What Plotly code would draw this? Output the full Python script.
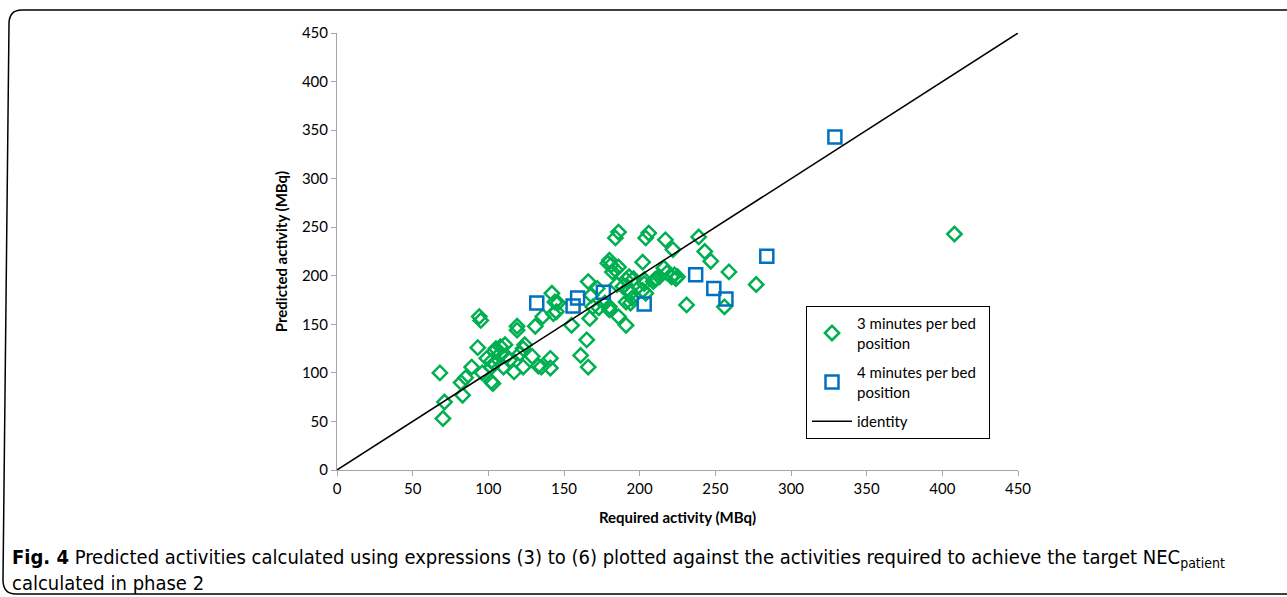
import plotly.graph_objects as go

# Data
green_x = [68, 71, 70, 82, 83, 85, 89, 93, 94, 95, 96, 99, 102, 102, 103, 104, 105, 108, 102, 104,
           108, 111, 112, 114, 110, 117, 119, 119, 121, 123, 124, 123, 129, 131, 133, 136, 135, 141,
           141, 142, 144, 146, 145, 143, 155, 161, 165, 166, 166, 167, 168, 169, 173, 177, 180, 172,
           180, 179, 180, 181, 182, 184, 186, 184, 186, 185, 186, 191, 189, 191, 193, 193, 194, 195,
           194, 191, 196, 203, 204, 202, 204, 206, 210, 213, 216, 218, 223, 225, 217, 222, 239, 243,
           247, 259, 277, 231, 256, 408, 209, 211, 221, 224, 203, 202]
green_y = [100, 70, 53, 90, 77, 95, 106, 126, 158, 154, 100, 115, 106, 91, 89, 122, 125, 127, 112, 110,
           120, 129, 117, 113, 106, 101, 148, 144, 120, 125, 129, 106, 117, 148, 107, 158, 106, 115,
           105, 182, 173, 172, 163, 161, 149, 118, 134, 106, 194, 156, 180, 168, 167, 172, 168, 187,
           165, 213, 216, 211, 204, 206, 209, 239, 245, 191, 158, 149, 189, 196, 199, 185, 182, 177,
           172, 173, 197, 196, 182, 214, 239, 244, 196, 199, 208, 203, 201, 199, 237, 227, 240, 225,
           215, 204, 191, 170, 168, 243, 194, 197, 199, 197, 192, 185]

blue_x = [132, 156, 159, 176, 203, 237, 249, 257, 284, 329]
blue_y = [172, 169, 177, 183, 171, 201, 187, 176, 220, 343]

identity_x = [0, 450]
identity_y = [0, 450]

tick_vals = [0, 50, 100, 150, 200, 250, 300, 350, 400, 450]

GREEN = "#00B050"
BLUE = "#0070C0"
FONT = "Lato, Carlito, 'Open Sans', sans-serif"

fig = go.Figure()
fig.add_trace(go.Scatter(
    x=green_x, y=green_y, mode="markers", legendgroup="g1",
    name="3 minutes per bed&nbsp;&nbsp;<br>position",
    marker=dict(symbol="diamond-open", size=11, color=GREEN, line=dict(width=2.5, color=GREEN)),
))
fig.add_trace(go.Scatter(
    x=blue_x, y=blue_y, mode="markers", legendgroup="g2",
    name="4 minutes per bed<br>position",
    marker=dict(symbol="square-open", size=13, color=BLUE, line=dict(width=2.5, color=BLUE)),
))
fig.add_trace(go.Scatter(
    x=identity_x, y=identity_y, mode="lines", name="identity", legendgroup="g3",
    line=dict(color="black", width=1.5),
))

L, R, T, B = 337, 1018, 33, 470
W, H = 1287, 597

def px(x):
    return (x - L) / (R - L)

def py(y):
    return (B - y) / (B - T)

# rounded frame around the figure
frame = (f"M {px(1300)},{py(10)} L {px(22)},{py(10)} Q {px(9)},{py(10)} {px(9)},{py(24)} "
         f"L {px(3)},{py(580)} Q {px(3)},{py(594)} {px(16)},{py(594)} L {px(1300)},{py(594)}")

fig.update_layout(
    width=W, height=H,
    margin=dict(l=L, r=W - R, t=T, b=H - B),
    paper_bgcolor="white", plot_bgcolor="white",
    font=dict(family=FONT, size=15, color="black"),
    showlegend=True,
    legend=dict(
        x=px(806), y=py(306), xanchor="left", yanchor="top",
        bordercolor="black", borderwidth=1, bgcolor="white",
        font=dict(family=FONT, size=15, color="black"),
        tracegroupgap=7, itemwidth=40,
    ),
    xaxis=dict(
        range=[0, 450], tickvals=tick_vals, showgrid=False, zeroline=False,
        showline=True, linecolor="#a6a6a6", linewidth=1,
        ticks="outside", ticklen=5, tickcolor="#a6a6a6",
        title=dict(text="<b>Required activity (MBq)</b>", standoff=16,
                   font=dict(family=FONT, size=15)),
        tickfont=dict(family=FONT, size=15),
    ),
    yaxis=dict(
        range=[0, 450], tickvals=tick_vals, showgrid=False, zeroline=False,
        showline=True, linecolor="#a6a6a6", linewidth=1,
        ticks="outside", ticklen=5, tickcolor="#a6a6a6",
        title=dict(text="<b>Predicted activity (MBq)</b>", standoff=10,
                   font=dict(family=FONT, size=15)),
        tickfont=dict(family=FONT, size=15),
    ),
    shapes=[dict(type="path", xref="paper", yref="paper", path=frame,
                 line=dict(color="black", width=1.5))],
    annotations=[
        dict(xref="paper", yref="paper", x=px(10), y=py(543), xanchor="left", yanchor="top",
             align="left", showarrow=False,
             text=("<b>Fig. 4</b> Predicted activities calculated using expressions (3) to (6) plotted "
                   "against the activities required to achieve the target NEC<sub>patient</sub><br>"
                   "calculated in phase 2"),
             font=dict(family="'Liberation Sans Narrow', 'DejaVu Sans Condensed', sans-serif",
                       size=20, color="black")),
    ],
)

fig.write_html("out.html", config={"displayModeBar": False},
               post_script="document.body.style.margin='0';")
